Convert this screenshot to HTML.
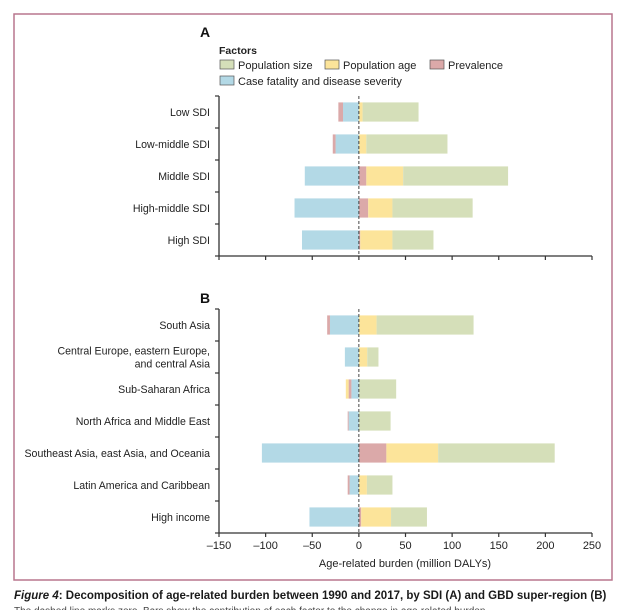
<!DOCTYPE html>
<html><head><meta charset="utf-8"><style>
body{margin:0;width:625px;height:610px;background:#fff;overflow:hidden;font-family:"Liberation Sans",sans-serif;}
svg text{font-family:"Liberation Sans",sans-serif;}
</style></head><body>
<svg id="chart" width="625" height="610" xmlns="http://www.w3.org/2000/svg">
<rect x="14" y="14" width="598" height="566" fill="none" stroke="#b9768d" stroke-width="1.5"/>
<text x="200" y="37" font-size="14" font-weight="bold" fill="#111">A</text>
<text x="200" y="303" font-size="14" font-weight="bold" fill="#111">B</text>
<g>
<text x="219" y="54" font-size="10.5" font-weight="bold" fill="#222">Factors</text>
<g><rect x="220" y="60" width="14" height="9" fill="#d5dfb9" stroke="#555" stroke-width="0.7"/><text x="238" y="69" font-size="11" fill="#222">Population size</text></g>
<g><rect x="325" y="60" width="14" height="9" fill="#fce49a" stroke="#555" stroke-width="0.7"/><text x="343" y="69" font-size="11" fill="#222">Population age</text></g>
<g><rect x="430" y="60" width="14" height="9" fill="#dba9a9" stroke="#555" stroke-width="0.7"/><text x="448" y="69" font-size="11" fill="#222">Prevalence</text></g>
<g><rect x="220" y="76" width="14" height="9" fill="#b3d9e6" stroke="#555" stroke-width="0.7"/><text x="238" y="85" font-size="11" fill="#222">Case fatality and disease severity</text></g>
</g>
<g id="plots"></g>
<text x="405" y="567" font-size="11" fill="#222" text-anchor="middle">Age-related burden (million DALYs)</text>
<text x="14" y="599" font-size="11.5" font-weight="bold" fill="#1a1a1a"><tspan font-style="italic">Figure 4</tspan>: Decomposition of age-related burden between 1990 and 2017, by SDI (A) and GBD super-region (B)</text>
<text x="14" y="614" font-size="10" fill="#444">The dashed line marks zero. Bars show the contribution of each factor to the change in age-related burden.</text>
</svg>
<script>
// Panel A data
const catsA = ["Low SDI","Low-middle SDI","Middle SDI","High-middle SDI","High SDI"];
const caseA = [-17,-25,-58,-69,-61];
const prevA = [-5,-3,8,10,1.5];
const ageA  = [4,8,39.5,26,34.5];
const sizeA = [60,87,112.5,86,44];
// Panel B data
const catsB = ["South Asia","Central Europe, eastern Europe,|and central Asia","Sub-Saharan Africa","North Africa and Middle East","Southeast Asia, east Asia, and Oceania","Latin America and Caribbean","High income"];
const caseB = [-31,-15,-8,-11,-104,-10,-53];
const prevB = [-3,0,-3,-1,29.5,-2,2.5];
const ageB  = [19,9,-3,0,55.5,8.6,32];
const sizeB = [104,12,40,34,125,27.4,38.5];
const xTicks = [-150,-100,-50,0,50,100,150,200,250];

const NS="http://www.w3.org/2000/svg";
const g=document.getElementById('plots');
const X0=219, X1=592, xmin=-150, xmax=250;
const xs=v=>X0+(v-xmin)/(xmax-xmin)*(X1-X0);
const colors={case:"#b3d9e6",prev:"#dba9a9",age:"#fce49a",size:"#d5dfb9"};
function el(t,a,p){const e=document.createElementNS(NS,t);for(const k in a)e.setAttribute(k,a[k]);(p||g).appendChild(e);return e;}

function panel(key,cats,series,top,bottom,labels){
  const grp=el('g',{});
  
  
  const n=cats.length, step=(bottom-top)/n;
  const ys=i=>top+step*(i+0.5);
  const ax=el('line',{x1:X0,x2:X0,y1:top,y2:bottom,stroke:'#333','stroke-width':1.3},grp);
  
  
  for(let i=0;i<=n;i++){el('line',{x1:X0-4,x2:X0,y1:top+step*i,y2:top+step*i,stroke:'#333','stroke-width':1.2},grp);}
  const xa=el('line',{x1:X0,x2:X1,y1:bottom,y2:bottom,stroke:'#333','stroke-width':1.3},grp);
  
  
  xTicks.forEach(t=>{
    el('line',{x1:xs(t),x2:xs(t),y1:bottom,y2:bottom+4,stroke:'#333','stroke-width':1.2},grp);
    if(labels){const tx=el('text',{x:xs(t),y:bottom+16,'font-size':11,fill:'#222','text-anchor':'middle'},grp);tx.textContent=(t<0?'\u2013'+(-t):t);
      
      }
  });
  cats.forEach((c,i)=>{
    const parts=c.split('|');
    const lab=el('text',{x:X0-9,y:ys(i)+4-(parts.length-1)*6.5,'font-size':10.6,fill:'#222','text-anchor':'end'},grp);
    
    
    parts.forEach((p,j)=>{const ts=el('tspan',{x:X0-9,dy:j?13:0},lab);ts.textContent=p;});
    let pos=0,neg=0;const h=step*0.6;
    series.forEach(([nm,arr])=>{
      const v=arr[i]; if(!v) return;
      let a,b; if(v>0){a=pos;b=pos+v;pos=b;} else {a=neg+v;b=neg;neg=a;}
      const r=el('rect',{x:xs(a),y:ys(i)-h/2,width:xs(b)-xs(a),height:h,fill:colors[nm]},grp);
      
      
    });
  });
  const z=el('line',{x1:xs(0),x2:xs(0),y1:top,y2:bottom,stroke:'#333','stroke-width':0.9,'stroke-dasharray':'3,2'},grp);
  
  
}
panel('a',catsA,[['case',caseA],['prev',prevA],['age',ageA],['size',sizeA]],96,256,false);
panel('b',catsB,[['case',caseB],['prev',prevB],['age',ageB],['size',sizeB]],309,533,true);
</script>
</body></html>
